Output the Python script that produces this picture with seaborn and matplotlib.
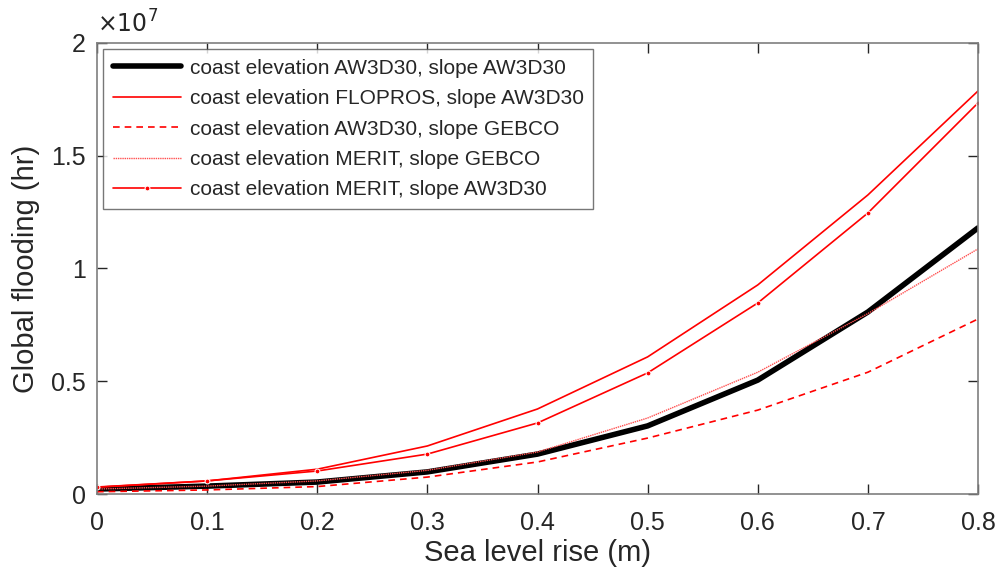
import matplotlib
matplotlib.use("Agg")
import matplotlib.pyplot as plt
import numpy as np
import pandas as pd
import seaborn as sns
from matplotlib.ticker import FuncFormatter

# sea level rise (m)
slr = [0.0, 0.1, 0.2, 0.3, 0.4, 0.5, 0.6, 0.7, 0.8]

# global flooding (hr)
aw3d30_aw3d30 = [0.022e7, 0.035e7, 0.053e7, 0.098e7, 0.177e7, 0.302e7, 0.505e7, 0.807e7, 1.180e7]
flopros_aw3d30 = [0.030e7, 0.058e7, 0.110e7, 0.213e7, 0.377e7, 0.608e7, 0.927e7, 1.326e7, 1.787e7]
aw3d30_gebco = [0.010e7, 0.018e7, 0.033e7, 0.075e7, 0.142e7, 0.248e7, 0.372e7, 0.540e7, 0.776e7]
merit_gebco = [0.022e7, 0.035e7, 0.058e7, 0.105e7, 0.186e7, 0.337e7, 0.540e7, 0.800e7, 1.087e7]
merit_aw3d30 = [0.031e7, 0.058e7, 0.102e7, 0.177e7, 0.315e7, 0.537e7, 0.847e7, 1.246e7, 1.734e7]

labels = [
    "coast elevation AW3D30, slope AW3D30",
    "coast elevation FLOPROS, slope AW3D30",
    "coast elevation AW3D30, slope GEBCO",
    "coast elevation MERIT, slope GEBCO",
    "coast elevation MERIT, slope AW3D30",
]
series = [aw3d30_aw3d30, flopros_aw3d30, aw3d30_gebco, merit_gebco, merit_aw3d30]

sns.set_style("ticks")
plt.rcParams["font.family"] = ["Liberation Sans", "DejaVu Sans"]

fig = plt.figure(figsize=(10, 5.79), dpi=100)
ax = fig.add_axes([0.097, 0.1468, 0.881, 0.779])

styles = [
    dict(color="black", linewidth=4.0, linestyle="-"),
    dict(color="red", linewidth=1.2, linestyle="-"),
    dict(color="red", linewidth=1.2, linestyle=(0, (4, 3))),
    dict(color="#ff5050", linewidth=1.0, linestyle=(0, (1, 0.6))),
    dict(color="red", linewidth=1.2, linestyle="-", marker="o", markersize=3.5),
]

for vals, lab, st in zip(series, labels, styles):
    df = pd.DataFrame({"slr": slr, "flood": vals})
    sns.lineplot(data=df, x="slr", y="flood", ax=ax, label=lab, **st)

ax.set_xlim(0, 0.8)
ax.set_ylim(0, 2e7)
ax.set_xticks(slr)
ax.set_yticks([0, 0.5e7, 1e7, 1.5e7, 2e7])
ax.xaxis.set_major_formatter(FuncFormatter(lambda v, p: f"{v:g}"))
ax.yaxis.set_major_formatter(FuncFormatter(lambda v, p: f"{v / 1e7:g}"))
ax.text(0.0, 1.012, r"$\times10^{7}$", transform=ax.transAxes, fontsize=17,
        color="#262626", ha="left", va="bottom")

ax.tick_params(direction="in", top=True, right=True, length=7, width=1,
               colors="#262626", labelsize=18)
ax.tick_params(axis="x", pad=12)
ax.tick_params(axis="y", pad=8)
for sp in ax.spines.values():
    sp.set_color("#7f7f7f")
    sp.set_linewidth(1.2)

ax.set_xlabel("Sea level rise (m)", fontsize=21, color="#262626", labelpad=3)
ax.set_ylabel("Global flooding (hr)", fontsize=21, color="#262626", labelpad=8)

leg = ax.legend(loc="upper left", fontsize=15, frameon=True, fancybox=False,
                handlelength=3.3, borderaxespad=0.3, borderpad=0.45,
                labelspacing=0.55, handletextpad=0.4)
leg.get_frame().set_edgecolor("#555555")
leg.get_frame().set_linewidth(1.0)

fig.savefig("out.png", dpi=100)
